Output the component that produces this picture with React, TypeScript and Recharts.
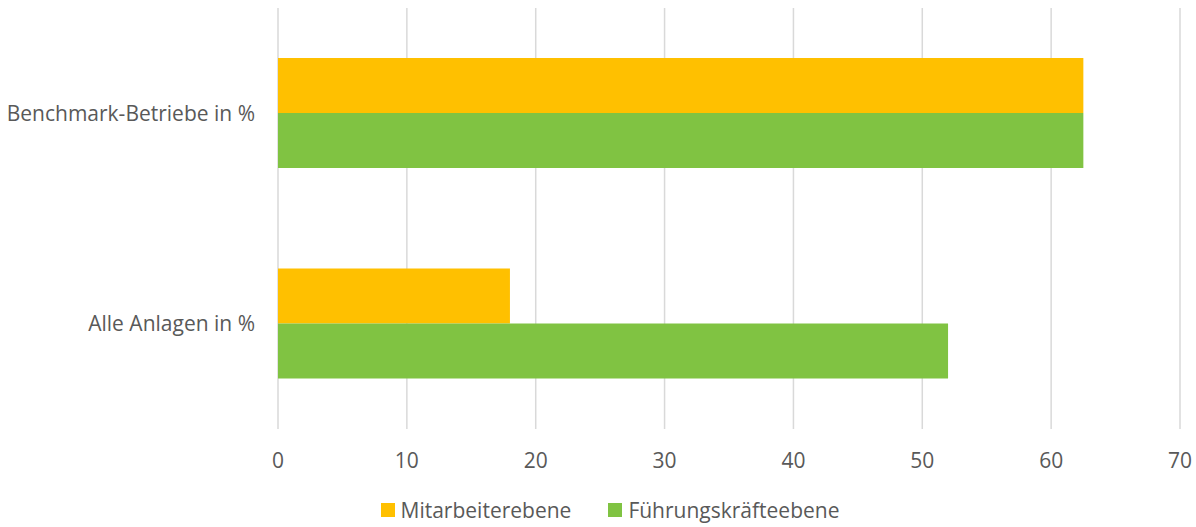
import { BarChart, Bar, XAxis, YAxis, CartesianGrid, Legend } from 'recharts'

const categories = ['Benchmark-Betriebe in %', 'Alle Anlagen in %']
const mitarbeiterebene = [62.5, 18]
const fuehrungskraefteebene = [62.5, 52]
const xTicks = [0, 10, 20, 30, 40, 50, 60, 70]

const seriesInfo = [
  { key: 'mitarbeiter', name: 'Mitarbeiterebene', color: '#FFC000' },
  { key: 'fuehrung', name: 'Führungskräfteebene', color: '#80C342' },
]

const data = categories.map((category, i) => ({
  category,
  mitarbeiter: mitarbeiterebene[i],
  fuehrung: fuehrungskraefteebene[i],
}))

const FONT = '"Open Sans", Lato, sans-serif'
const TEXT = '#595959'
const FONT_SIZE = 21

// Legende: farbiges Quadrat + Beschriftung, leicht nach rechts versetzt
function LegendContent() {
  return (
    <div style={{ display: 'flex', justifyContent: 'center', gap: 37, paddingTop: 7, paddingLeft: 40, fontFamily: FONT, fontSize: FONT_SIZE, color: TEXT }}>
      {seriesInfo.map(s => (
        <div key={s.key} style={{ display: 'flex', alignItems: 'center' }}>
          <span style={{ width: 14, height: 14, background: s.color, display: 'inline-block', marginRight: 6 }} />
          <span>{s.name}</span>
        </div>
      ))}
    </div>
  )
}

export default function App() {
  return (
    <div style={{ position: 'absolute', left: 0, top: 0, background: '#fff' }}>
      <BarChart
        width={1196}
        height={527}
        data={data}
        layout="vertical"
        margin={{ top: 8, right: 16, bottom: 0, left: 0 }}
        barGap={0}
      >
        <CartesianGrid horizontal={false} stroke="#D9D9D9" strokeWidth={1.5} />
        <XAxis
          type="number"
          domain={[0, 70]}
          ticks={xTicks}
          interval={0}
          axisLine={false}
          tickLine={false}
          tickSize={0}
          tickMargin={24}
          height={60}
          tick={{ fill: TEXT, fontSize: FONT_SIZE, fontFamily: FONT }}
        />
        <YAxis
          type="category"
          dataKey="category"
          width={278}
          axisLine={false}
          tickLine={false}
          tickSize={0}
          tickMargin={23}
          tick={{ fill: TEXT, fontSize: FONT_SIZE, fontFamily: FONT }}
        />
        <Legend verticalAlign="bottom" height={38} content={<LegendContent />} />
        {seriesInfo.map(s => (
          <Bar key={s.key} dataKey={s.key} name={s.name} fill={s.color} barSize={55} isAnimationActive={false} />
        ))}
      </BarChart>
    </div>
  )
}
